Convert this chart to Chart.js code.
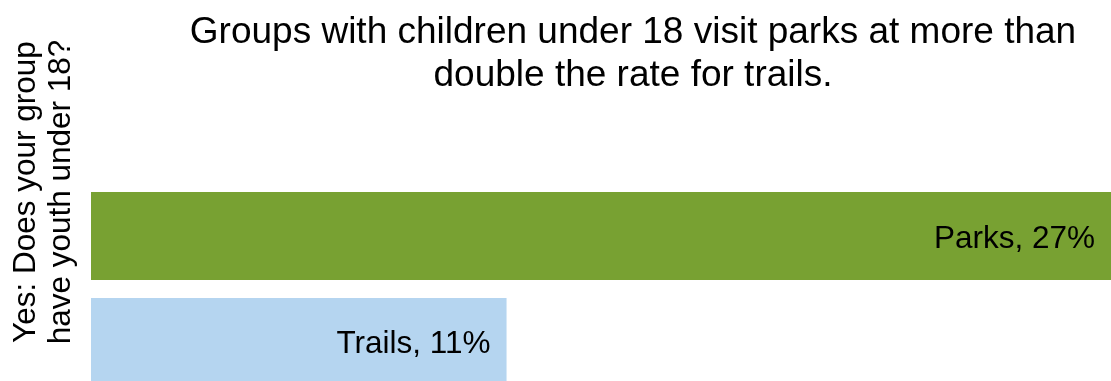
<!DOCTYPE html>
<html>
<head>
<meta charset="utf-8">
<script src="https://cdn.jsdelivr.net/npm/chart.js@4.4.1/dist/chart.umd.min.js"></script>
<style>
  html, body { margin: 0; padding: 0; background: #ffffff; overflow: hidden; }
  #wrap { width: 1111px; height: 381px; position: relative; }
  canvas { display: block; }
</style>
</head>
<body>
<div id="wrap"><canvas id="chart" width="1111" height="381"></canvas></div>
<script>
// ---- data ----
const categories = ['Yes'];
const seriesNames = ['Parks', 'Trails'];
const parksValues = [27];
const trailsValues = [11];
const seriesColors = ['#78A132', '#B5D5F0'];
const titleLines = ['Groups with children under 18 visit parks at more than', 'double the rate for trails.'];
const axisTitleLines = ['Yes: Does your group', 'have youth under 18?'];
const xMin = 0;
const xMax = 27;

const FONT = '"Liberation Sans", Arial, Helvetica, sans-serif';

const textPlugin = {
  id: 'textPlugin',
  afterDatasetsDraw(chart) {
    const ctx = chart.ctx;
    ctx.save();
    ctx.fillStyle = '#000000';
    ctx.font = '31.5px ' + FONT;
    ctx.textAlign = 'right';
    ctx.textBaseline = 'alphabetic';
    chart.data.datasets.forEach((ds, d) => {
      const meta = chart.getDatasetMeta(d);
      meta.data.forEach((bar, i) => {
        ctx.fillText(ds.label + ', ' + ds.data[i] + '%', bar.x - 16, bar.y + 11.5);
      });
    });
    ctx.restore();
  },
  afterDraw(chart) {
    const ctx = chart.ctx;
    ctx.save();
    ctx.fillStyle = '#000000';
    // chart title
    ctx.font = '37px ' + FONT;
    ctx.textAlign = 'center';
    ctx.textBaseline = 'alphabetic';
    titleLines.forEach((line, i) => {
      ctx.fillText(line, 633, 42.5 + i * 43.5);
    });
    // vertical axis title
    ctx.font = '31.5px ' + FONT;
    axisTitleLines.forEach((line, i) => {
      ctx.save();
      ctx.translate(35 + i * 35, 192);
      ctx.rotate(-Math.PI / 2);
      ctx.textAlign = 'center';
      ctx.textBaseline = 'alphabetic';
      ctx.fillText(line, 0, 0);
      ctx.restore();
    });
    ctx.restore();
  }
};

new Chart(document.getElementById('chart'), {
  type: 'bar',
  data: {
    labels: categories,
    datasets: [
      {
        label: seriesNames[0],
        data: parksValues,
        backgroundColor: seriesColors[0],
        borderWidth: 0,
        categoryPercentage: 1.152,
        barPercentage: 0.83,
        clip: false
      },
      {
        label: seriesNames[1],
        data: trailsValues,
        backgroundColor: seriesColors[1],
        borderWidth: 0,
        categoryPercentage: 1.152,
        barPercentage: 0.83,
        clip: false
      }
    ]
  },
  options: {
    indexAxis: 'y',
    responsive: false,
    animation: false,
    layout: { padding: { left: 91, top: 197, right: 0, bottom: 0 } },
    scales: {
      x: { display: false, min: xMin, max: xMax, grid: { display: false } },
      y: { display: false, grid: { display: false } }
    },
    plugins: {
      legend: { display: false },
      tooltip: { enabled: false }
    }
  },
  plugins: [textPlugin]
});
</script>
</body>
</html>
